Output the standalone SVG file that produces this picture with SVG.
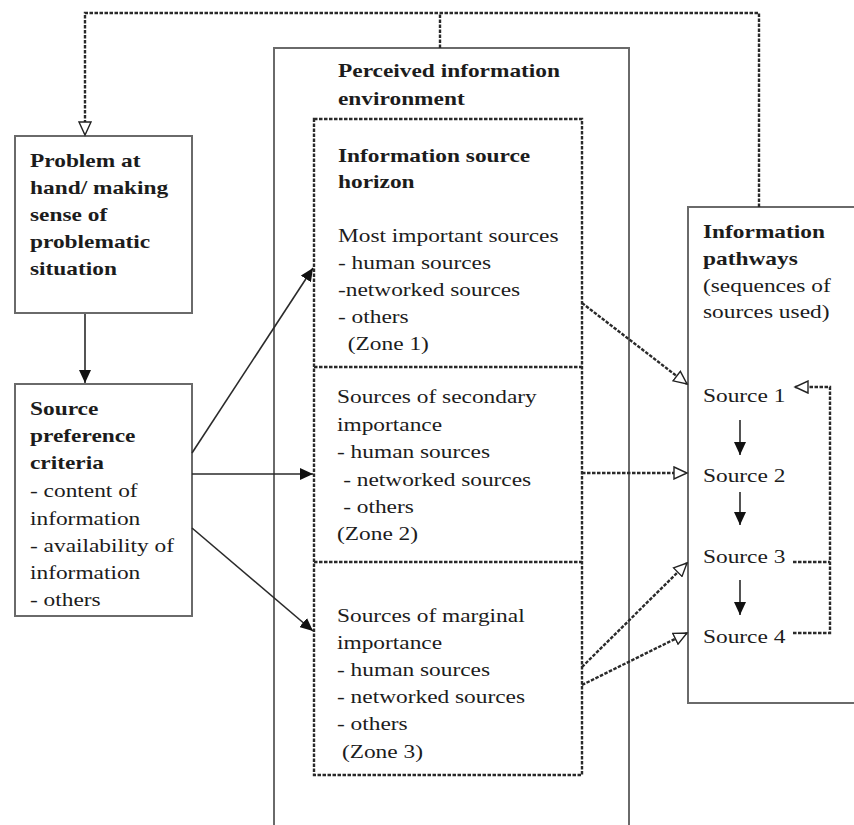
<svg xmlns="http://www.w3.org/2000/svg" width="854" height="825" viewBox="0 0 854 825">
<style>
  .box{fill:#fff;stroke:#6a6a6a;stroke-width:2}
  .dbox{fill:none;stroke:#2a2a2a;stroke-width:2.4;stroke-dasharray:3.5 1.5}
  .dash{fill:none;stroke:#2a2a2a;stroke-width:2.4;stroke-dasharray:3.5 1.5}
  .solid{fill:none;stroke:#2a2a2a;stroke-width:1.6}
  text{font-family:"Liberation Serif","Times New Roman",serif;font-size:19px;fill:#1c1c1c}
  .b{font-weight:bold}
</style>
<defs>
  <marker id="fa" markerUnits="userSpaceOnUse" markerWidth="14" markerHeight="12" refX="13" refY="6" orient="auto">
    <path d="M0,0 L13,6 L0,12 z" fill="#111"/>
  </marker>
  <marker id="oa" markerUnits="userSpaceOnUse" markerWidth="16" markerHeight="14" refX="14" refY="7" orient="auto">
    <path d="M1,1 L14,7 L1,13 z" fill="#fff" stroke="#222" stroke-width="1.4"/>
  </marker>
</defs>

<g id="perceived">
  <rect class="box" x="274" y="48" width="355" height="790"/>
  <text class="b" transform="matrix(1.23 0 0 1 338 77)"><tspan x="0" y="0">Perceived information</tspan><tspan x="0" y="28">environment</tspan></text>
</g>

<g id="horizon">
  <rect class="dbox" x="314" y="119" width="268" height="656"/>
  <line class="dbox" x1="314" y1="367" x2="582" y2="367"/>
  <line class="dbox" x1="314" y1="562" x2="582" y2="562"/>
  <text class="b" transform="matrix(1.23 0 0 1 338 162)"><tspan x="0" y="0">Information source</tspan><tspan x="0" y="26">horizon</tspan></text>
</g>

<g id="zone1">
  <text transform="matrix(1.23 0 0 1 338 242)"><tspan x="0" y="0">Most important sources</tspan><tspan x="0" y="27">- human sources</tspan><tspan x="0" y="54">-networked sources</tspan><tspan x="0" y="81">- others</tspan><tspan x="8" y="108">(Zone 1)</tspan></text>
</g>

<g id="zone2">
  <text transform="matrix(1.23 0 0 1 337 403)"><tspan x="0" y="0">Sources of secondary</tspan><tspan x="0" y="28">importance</tspan><tspan x="0" y="55">- human sources</tspan><tspan x="5" y="83">- networked sources</tspan><tspan x="5" y="110">- others</tspan><tspan x="0" y="137">(Zone 2)</tspan></text>
</g>

<g id="zone3">
  <text transform="matrix(1.23 0 0 1 337 622)"><tspan x="0" y="0">Sources of marginal</tspan><tspan x="0" y="27">importance</tspan><tspan x="0" y="54">- human sources</tspan><tspan x="0" y="81">- networked sources</tspan><tspan x="0" y="108">- others</tspan><tspan x="4" y="136">(Zone 3)</tspan></text>
</g>

<g id="problem">
  <rect class="box" x="15" y="136" width="177" height="177"/>
  <text class="b" transform="matrix(1.23 0 0 1 30 167)"><tspan x="0" y="0">Problem at</tspan><tspan x="0" y="27">hand/ making</tspan><tspan x="0" y="54">sense of</tspan><tspan x="0" y="81">problematic</tspan><tspan x="0" y="108">situation</tspan></text>
</g>

<g id="preference">
  <rect class="box" x="15" y="384" width="177" height="232"/>
  <text transform="matrix(1.23 0 0 1 30 415)"><tspan class="b" x="0" y="0">Source</tspan><tspan class="b" x="0" y="27">preference</tspan><tspan class="b" x="0" y="54">criteria</tspan><tspan x="0" y="82">- content of</tspan><tspan x="0" y="110">information</tspan><tspan x="0" y="137">- availability of</tspan><tspan x="0" y="164">information</tspan><tspan x="0" y="191">- others</tspan></text>
</g>

<g id="pathways">
  <rect class="box" x="688" y="207" width="170" height="496"/>
  <text transform="matrix(1.23 0 0 1 703 238)"><tspan class="b" x="0" y="0">Information</tspan><tspan class="b" x="0" y="27">pathways</tspan><tspan x="0" y="54">(sequences of</tspan><tspan x="0" y="80">sources used)</tspan></text>
  <text transform="matrix(1.23 0 0 1 703 402)">Source 1</text>
  <text transform="matrix(1.23 0 0 1 703 482)">Source 2</text>
  <text transform="matrix(1.23 0 0 1 703 563)">Source 3</text>
  <text transform="matrix(1.23 0 0 1 703 643)">Source 4</text>
</g>

<g id="connectors">
  <path class="dash" d="M759,207 V13 H85 V135" marker-end="url(#oa)"/>
  <path class="dash" d="M440,48 V13"/>
  <path class="solid" d="M85,314 V383" marker-end="url(#fa)"/>
  <path class="solid" d="M192,453 L313,268" marker-end="url(#fa)"/>
  <path class="solid" d="M192,474 H313" marker-end="url(#fa)"/>
  <path class="solid" d="M192,528 L313,631" marker-end="url(#fa)"/>
  <path class="dash" d="M582,303 L687,384" marker-end="url(#oa)"/>
  <path class="dash" d="M582,473 H687" marker-end="url(#oa)"/>
  <path class="dash" d="M582,667 L687,563" marker-end="url(#oa)"/>
  <path class="dash" d="M582,685 L687,633" marker-end="url(#oa)"/>
  <path class="solid" d="M740,420 V455" marker-end="url(#fa)"/>
  <path class="solid" d="M740,492 V525" marker-end="url(#fa)"/>
  <path class="solid" d="M740,580 V615" marker-end="url(#fa)"/>
  <path class="dash" d="M793,562 H830"/>
  <path class="dash" d="M793,633 H830 V387 H795" marker-end="url(#oa)"/>
</g>
</svg>
